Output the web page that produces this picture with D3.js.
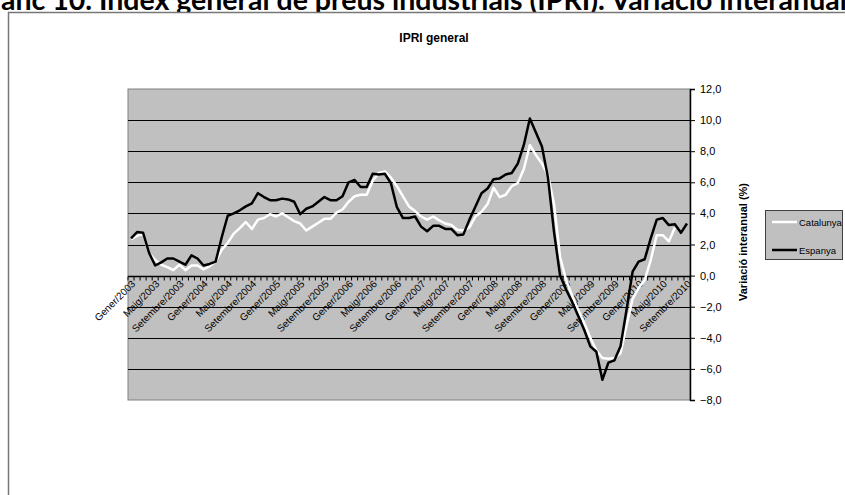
<!DOCTYPE html>
<html>
<head>
<meta charset="utf-8">
<script src="https://cdn.jsdelivr.net/npm/d3@7"></script>
<style>
  body { margin: 0; background: #fff; }
  svg { display: block; }
  text { font-family: "Liberation Sans", Arial, sans-serif; }
</style>
</head>
<body>
<div id="chart"></div>
<script>
var monthNames = ['Gener', 'Febrer', 'Març', 'Abril', 'Maig', 'Juny', 'Juliol', 'Agost',
  'Setembre', 'Octubre', 'Novembre', 'Desembre']
var years = [2003, 2004, 2005, 2006, 2007, 2008, 2009, 2010]

// Gener/2003 .. Setembre/2010
var months = []
years.forEach(function(yr) {
  monthNames.forEach(function(m) { months.push(m + '/' + yr) })
})
months = months.slice(0, 93)

var catalunya = [
  2.35, 2.55, 2.7, 1.45, 1.0, 0.7, 0.55, 0.35, 0.7, 0.35, 0.65, 0.65,
  0.4, 0.6, 0.9, 1.65, 2.1, 2.7, 3.05, 3.45, 3.0, 3.6, 3.7, 3.95,
  3.8, 4.0, 3.75, 3.5, 3.35, 2.9, 3.15, 3.4, 3.65, 3.65, 4.05, 4.25,
  4.75, 5.1, 5.2, 5.2, 6.1, 6.6, 6.7, 6.3, 5.75, 5.1, 4.45, 4.15,
  3.8, 3.6, 3.8, 3.55, 3.35, 3.25, 2.95, 2.9, 3.1, 3.8, 4.1, 4.6,
  5.65, 5.05, 5.2, 5.75, 5.95, 6.85, 8.4, 7.75, 7.2, 6.45, 4.6, 1.2,
  -0.3, -1.3, -2.2, -3.05, -4.0, -4.8, -5.3, -5.35, -5.3, -5.0, -3.2, -1.5,
  -0.8, -0.3, 1.0, 2.6, 2.6, 2.2, 3.1
]

var espanya = [
  2.4, 2.8, 2.75, 1.45, 0.65, 0.85, 1.1, 1.1, 0.9, 0.7, 1.3, 1.1,
  0.65, 0.75, 0.9, 2.45, 3.85, 4.0, 4.2, 4.45, 4.65, 5.3, 5.05, 4.85,
  4.85, 4.95, 4.9, 4.75, 3.95, 4.3, 4.45, 4.75, 5.05, 4.85, 4.85, 5.1,
  6.0, 6.15, 5.7, 5.7, 6.55, 6.5, 6.55, 5.95, 4.4, 3.7, 3.7, 3.8,
  3.15, 2.85, 3.2, 3.2, 3.0, 3.0, 2.6, 2.65, 3.6, 4.45, 5.3, 5.6,
  6.2, 6.25, 6.5, 6.6, 7.2, 8.4, 10.1, 9.2, 8.3, 6.3, 2.8, 0.0,
  -0.9, -1.7, -2.6, -3.5, -4.55, -4.9, -6.7, -5.6, -5.45, -4.55, -2.2, 0.25,
  0.9, 1.05, 2.4, 3.6, 3.7, 3.25, 3.3, 2.75, 3.35
]

var yTicks = [-8, -6, -4, -2, 0, 2, 4, 6, 8, 10, 12]

var series = [
  {name: 'Catalunya', values: catalunya, color: '#ffffff'},
  {name: 'Espanya', values: espanya, color: '#000000'}
]

var width = 845, height = 495
var plot = {left: 128, right: 690, top: 89, bottom: 400}

var svg = d3.select('#chart').append('svg')
  .attr('width', width)
  .attr('height', height)

// heading of the page, cut by the top edge
var heading = svg.append('text')
  .attr('x', 1)
  .attr('y', 9.5)
  .style('font-family', 'Lato, "Open Sans", sans-serif')
  .style('font-weight', 'bold')
  .style('font-size', '20px')
  .text('anc 10. Índex general de preus industrials (IPRI). Variació interanual')
var hw = heading.node().getComputedTextLength()
heading.style('font-size', (20 * 846 / hw) + 'px')

// chart frame
svg.append('rect')
  .attr('x', 8.5)
  .attr('y', 12.5)
  .attr('width', 900)
  .attr('height', 600)
  .attr('fill', '#fff')
  .attr('stroke', '#777')
  .attr('stroke-width', 1.5)

svg.append('text')
  .attr('x', 434)
  .attr('y', 42)
  .attr('text-anchor', 'middle')
  .style('font-size', '12px')
  .style('font-weight', 'bold')
  .text('IPRI general')

var x = d3.scaleBand()
  .domain(months)
  .range([plot.left, plot.right])

var y = d3.scaleLinear()
  .domain([-8, 12])
  .range([plot.bottom, plot.top])

svg.append('rect')
  .attr('x', plot.left)
  .attr('y', plot.top)
  .attr('width', plot.right - plot.left)
  .attr('height', plot.bottom - plot.top)
  .attr('fill', '#c0c0c0')
  .attr('stroke', '#808080')
  .attr('stroke-width', 1)

// gridlines
svg.append('g')
  .selectAll('line')
  .data(yTicks.filter(function(d) { return d > -8 && d < 12 }))
  .enter()
  .append('line')
  .attr('x1', plot.left)
  .attr('x2', plot.right)
  .attr('y1', function(d) { return Math.round(y(d)) + 0.5 })
  .attr('y2', function(d) { return Math.round(y(d)) + 0.5 })
  .attr('stroke', '#000')
  .attr('stroke-width', 1)

// value axis on the right
var yAxis = d3.axisRight(y)
  .tickValues(yTicks)
  .tickSize(5)
  .tickPadding(5)
  .tickFormat(function(d) { return d3.format('.1f')(d).replace('.', ',') })

var ya = svg.append('g')
  .attr('transform', 'translate(' + plot.right + ',0)')
  .call(yAxis)
ya.select('.domain').attr('stroke', '#000').attr('stroke-width', 1.5)
ya.selectAll('.tick line').attr('stroke', '#000')
ya.selectAll('text')
  .style('font-family', '"Liberation Sans", Arial, sans-serif')
  .style('font-size', '11px')
  .attr('fill', '#000')

svg.append('text')
  .attr('transform', 'translate(747,242) rotate(-90)')
  .attr('text-anchor', 'middle')
  .style('font-size', '11px')
  .style('font-weight', 'bold')
  .text('Variació interanual (%)')

// category axis at zero
var y0 = Math.round(y(0)) + 0.5
var xa = svg.append('g')
xa.append('line')
  .attr('x1', plot.left)
  .attr('x2', plot.right)
  .attr('y1', y0)
  .attr('y2', y0)
  .attr('stroke', '#000')
  .attr('stroke-width', 1.5)

xa.selectAll('.tk')
  .data(months.concat(['end']))
  .enter()
  .append('line')
  .attr('class', 'tk')
  .attr('x1', function(d) { return d === 'end' ? plot.right : x(d) })
  .attr('x2', function(d) { return d === 'end' ? plot.right : x(d) })
  .attr('y1', y0)
  .attr('y2', y0 + 4)
  .attr('stroke', '#000')

xa.selectAll('.lbl')
  .data(months.filter(function(d, i) { return i % 4 === 0 }))
  .enter()
  .append('text')
  .attr('class', 'lbl')
  .attr('text-anchor', 'end')
  .attr('transform', function(d) {
    return 'translate(' + (x(d) + x.bandwidth() / 2 + 5) + ',' + (y0 + 8) + ') rotate(-45)'
  })
  .style('font-size', '10px')
  .text(function(d) { return d })

// lines
var line = d3.line()
  .x(function(d, i) { return x(months[i]) + x.bandwidth() / 2 })
  .y(function(d) { return y(d) })

svg.append('g')
  .selectAll('path')
  .data(series)
  .enter()
  .append('path')
  .attr('d', function(d) { return line(d.values) })
  .attr('fill', 'none')
  .attr('stroke', function(d) { return d.color })
  .attr('stroke-width', 2.5)
  .attr('stroke-linejoin', 'round')

// legend
var legend = svg.append('g')
legend.append('rect')
  .attr('x', 765.5)
  .attr('y', 210.5)
  .attr('width', 77)
  .attr('height', 49)
  .attr('fill', '#c0c0c0')
  .attr('stroke', '#404040')

var item = legend.selectAll('.item')
  .data(series)
  .enter()
  .append('g')
  .attr('class', 'item')
  .attr('transform', function(d, i) { return 'translate(0,' + (222 + i * 28) + ')' })

item.append('line')
  .attr('x1', 772)
  .attr('x2', 797)
  .attr('stroke', function(d) { return d.color })
  .attr('stroke-width', 2.5)

item.append('text')
  .attr('x', 799)
  .attr('y', 3.5)
  .style('font-size', '9.5px')
  .text(function(d) { return d.name })
</script>
</body>
</html>
